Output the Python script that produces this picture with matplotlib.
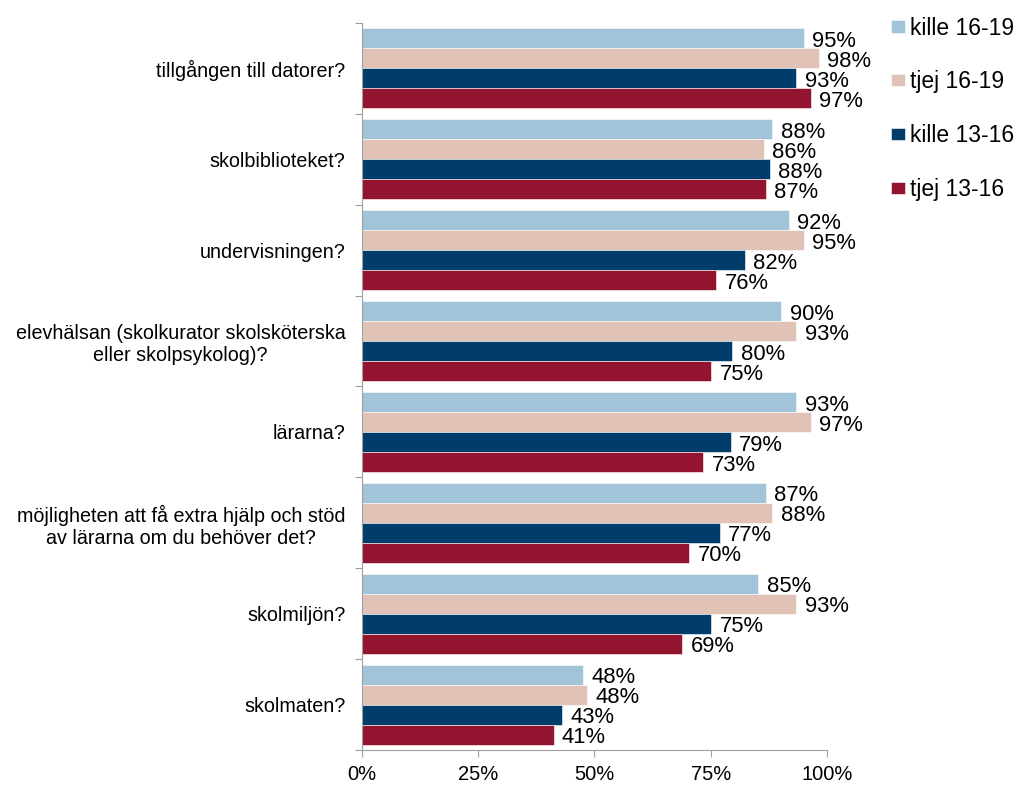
import matplotlib.pyplot as plt
import numpy as np

categories = [
    "tillgången till datorer?",
    "skolbiblioteket?",
    "undervisningen?",
    "elevhälsan (skolkurator skolsköterska\neller skolpsykolog)?",
    "lärarna?",
    "möjligheten att få extra hjälp och stöd\nav lärarna om du behöver det?",
    "skolmiljön?",
    "skolmaten?",
]
series_names = ["kille 16-19", "tjej 16-19", "kille 13-16", "tjej 13-16"]
kille_16_19 = [0.950, 0.883, 0.918, 0.902, 0.934, 0.869, 0.853, 0.476]
tjej_16_19 = [0.983, 0.864, 0.950, 0.934, 0.966, 0.883, 0.934, 0.484]
kille_13_16 = [0.934, 0.878, 0.823, 0.797, 0.793, 0.770, 0.751, 0.430]
tjej_13_16 = [0.966, 0.869, 0.762, 0.751, 0.734, 0.704, 0.689, 0.412]
colors = ["#A2C4D8", "#E0C2B6", "#003D6A", "#93142E"]

x_ticks = [0, 0.25, 0.5, 0.75, 1.0]
x_ticklabels = ["0%", "25%", "50%", "75%", "100%"]


def main() -> None:
    plt.rcParams["font.family"] = ["Liberation Sans", "DejaVu Sans"]
    fig = plt.figure(figsize=(10.17, 7.87), dpi=100)
    ax = fig.add_axes([0.356, 0.047, 0.457, 0.924])

    data = [kille_16_19, tjej_16_19, kille_13_16, tjej_13_16]
    n = len(categories)
    y = np.arange(n)
    h = 0.22
    for i, (vals, name, col) in enumerate(zip(data, series_names, colors)):
        pos = y + (i - 1.5) * h
        ax.barh(pos, vals, height=h, color=col, label=name,
                edgecolor="white", linewidth=0.4)
        for p, v in zip(pos, vals):
            ax.text(v + 0.018, p + 0.035, f"{round(v * 100)}%", va="center",
                    ha="left", fontsize=15.8, color="black")

    ax.set_xlim(0, 1)
    ax.set_ylim(n - 0.5, -0.5)
    ax.set_xticks(x_ticks)
    ax.set_xticklabels(x_ticklabels, fontsize=14.5)
    ax.set_yticks(np.arange(n + 1) - 0.5)
    ax.set_yticklabels([])
    ax.set_yticks(y, minor=True)
    ax.set_yticklabels(categories, minor=True, fontsize=14.2,
                       multialignment="center")
    ax.tick_params(axis="y", which="minor", length=0, pad=12)
    ax.tick_params(axis="y", which="major", length=5, color="#A0A0A0")
    ax.tick_params(axis="x", length=5, color="#A0A0A0", pad=6)

    for side in ["top", "right"]:
        ax.spines[side].set_visible(False)
    for side in ["left", "bottom"]:
        ax.spines[side].set_color("#A0A0A0")

    fig.legend(loc="upper left", bbox_to_anchor=(0.876, 0.979), frameon=False,
               fontsize=16.5, handlelength=0.6, handleheight=0.45,
               handletextpad=0.25, labelspacing=1.35, borderaxespad=0,
               borderpad=0)

    fig.savefig("out.png", dpi=100)


if __name__ == "__main__":
    main()
